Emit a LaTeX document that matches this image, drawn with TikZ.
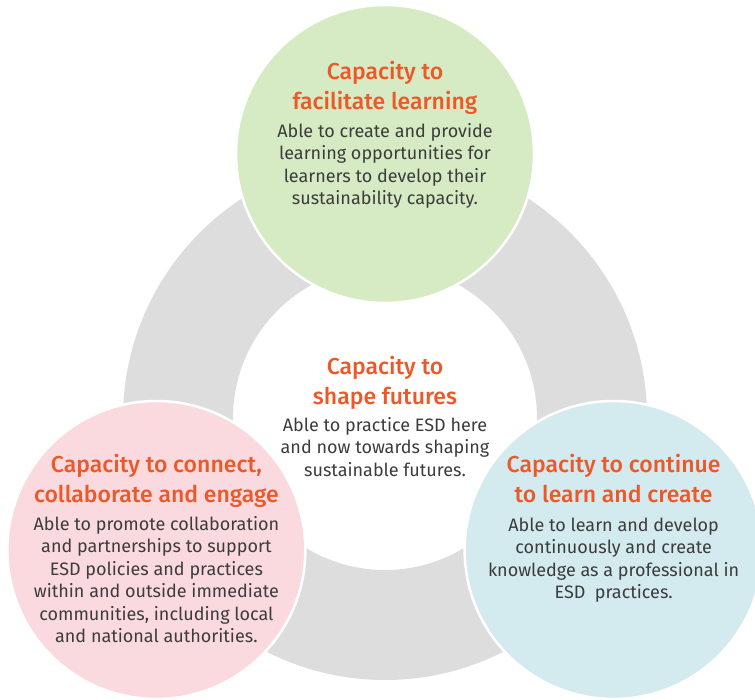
\documentclass[tikz,border=0pt]{standalone}
\usepackage{xcolor}
\usepackage{fontspec}
\setmainfont{Fira Sans}
\newfontfamily\headfont{Fira Sans Medium}
\usepackage{tikz}
\usetikzlibrary{positioning}
\definecolor{ringgray}{RGB}{221, 221, 221}
\definecolor{leafgreen}{RGB}{214, 235, 196}
\definecolor{rosepink}{RGB}{250, 218, 222}
\definecolor{aquablue}{RGB}{211, 235, 238}
\definecolor{headorange}{RGB}{236, 88, 40}
\definecolor{bodygray}{RGB}{60, 60, 60}

\begin{document}
\begin{tikzpicture}[
        x=1pt, y=1pt,
        bubble/.style={circle, draw=white, line width=2.5pt, minimum size=298pt, inner sep=0pt},
        heading/.style={anchor=north, align=center, inner sep=0pt, text=headorange, font=\headfont\fontsize{23}{29.5}\selectfont},
        blurb/.style={align=center, inner sep=0pt, text=bodygray, font=\fontsize{18}{22.5}\selectfont}
    ]
        \useasboundingbox (-385,-281) rectangle (370,418);

        % Grey ring
        \coordinate (hub) at (0,0);
        \fill[ringgray, even odd rule] (hub) circle (262pt) (hub) circle (152pt);

        % Outer circles
        \node[bubble, fill=leafgreen] (facilitate) at (90:264pt) {};
        \node[bubble, fill=rosepink] (connect) at (210:264pt) {};
        \node[bubble, fill=aquablue] (continue) at (330:264pt) {};

        % Top circle
        \node[heading] (facilitate-head) at ([yshift=93pt]facilitate.center) {Capacity to\\facilitate learning};
        \node[blurb, below=9pt of facilitate-head] (facilitate-text) {Able to create and provide\\learning opportunities for\\learners to develop their\\sustainability capacity.};

        % Left circle
        \node[heading] (connect-head) at ([yshift=96pt]connect.center) {Capacity to connect,\\collaborate and engage};
        \node[blurb, below=9pt of connect-head] (connect-text) {Able to promote collaboration\\and partnerships to support\\ESD policies and practices\\within and outside immediate\\communities, including local\\and national authorities.};

        % Right circle
        \node[heading] (continue-head) at ([yshift=96pt]continue.center) {Capacity to continue\\to learn and create};
        \node[blurb, below=15pt of continue-head] (continue-text) {Able to learn and develop\\continuously and create\\knowledge as a professional in\\ESD~~practices.};

        % Centre
        \node[heading] (shape-head) at ([yshift=62pt]hub) {Capacity to\\shape futures};
        \node[blurb, below=8pt of shape-head] (shape-text) {Able to practice ESD here\\and now towards shaping\\sustainable futures.};
    \end{tikzpicture}
\end{document}
